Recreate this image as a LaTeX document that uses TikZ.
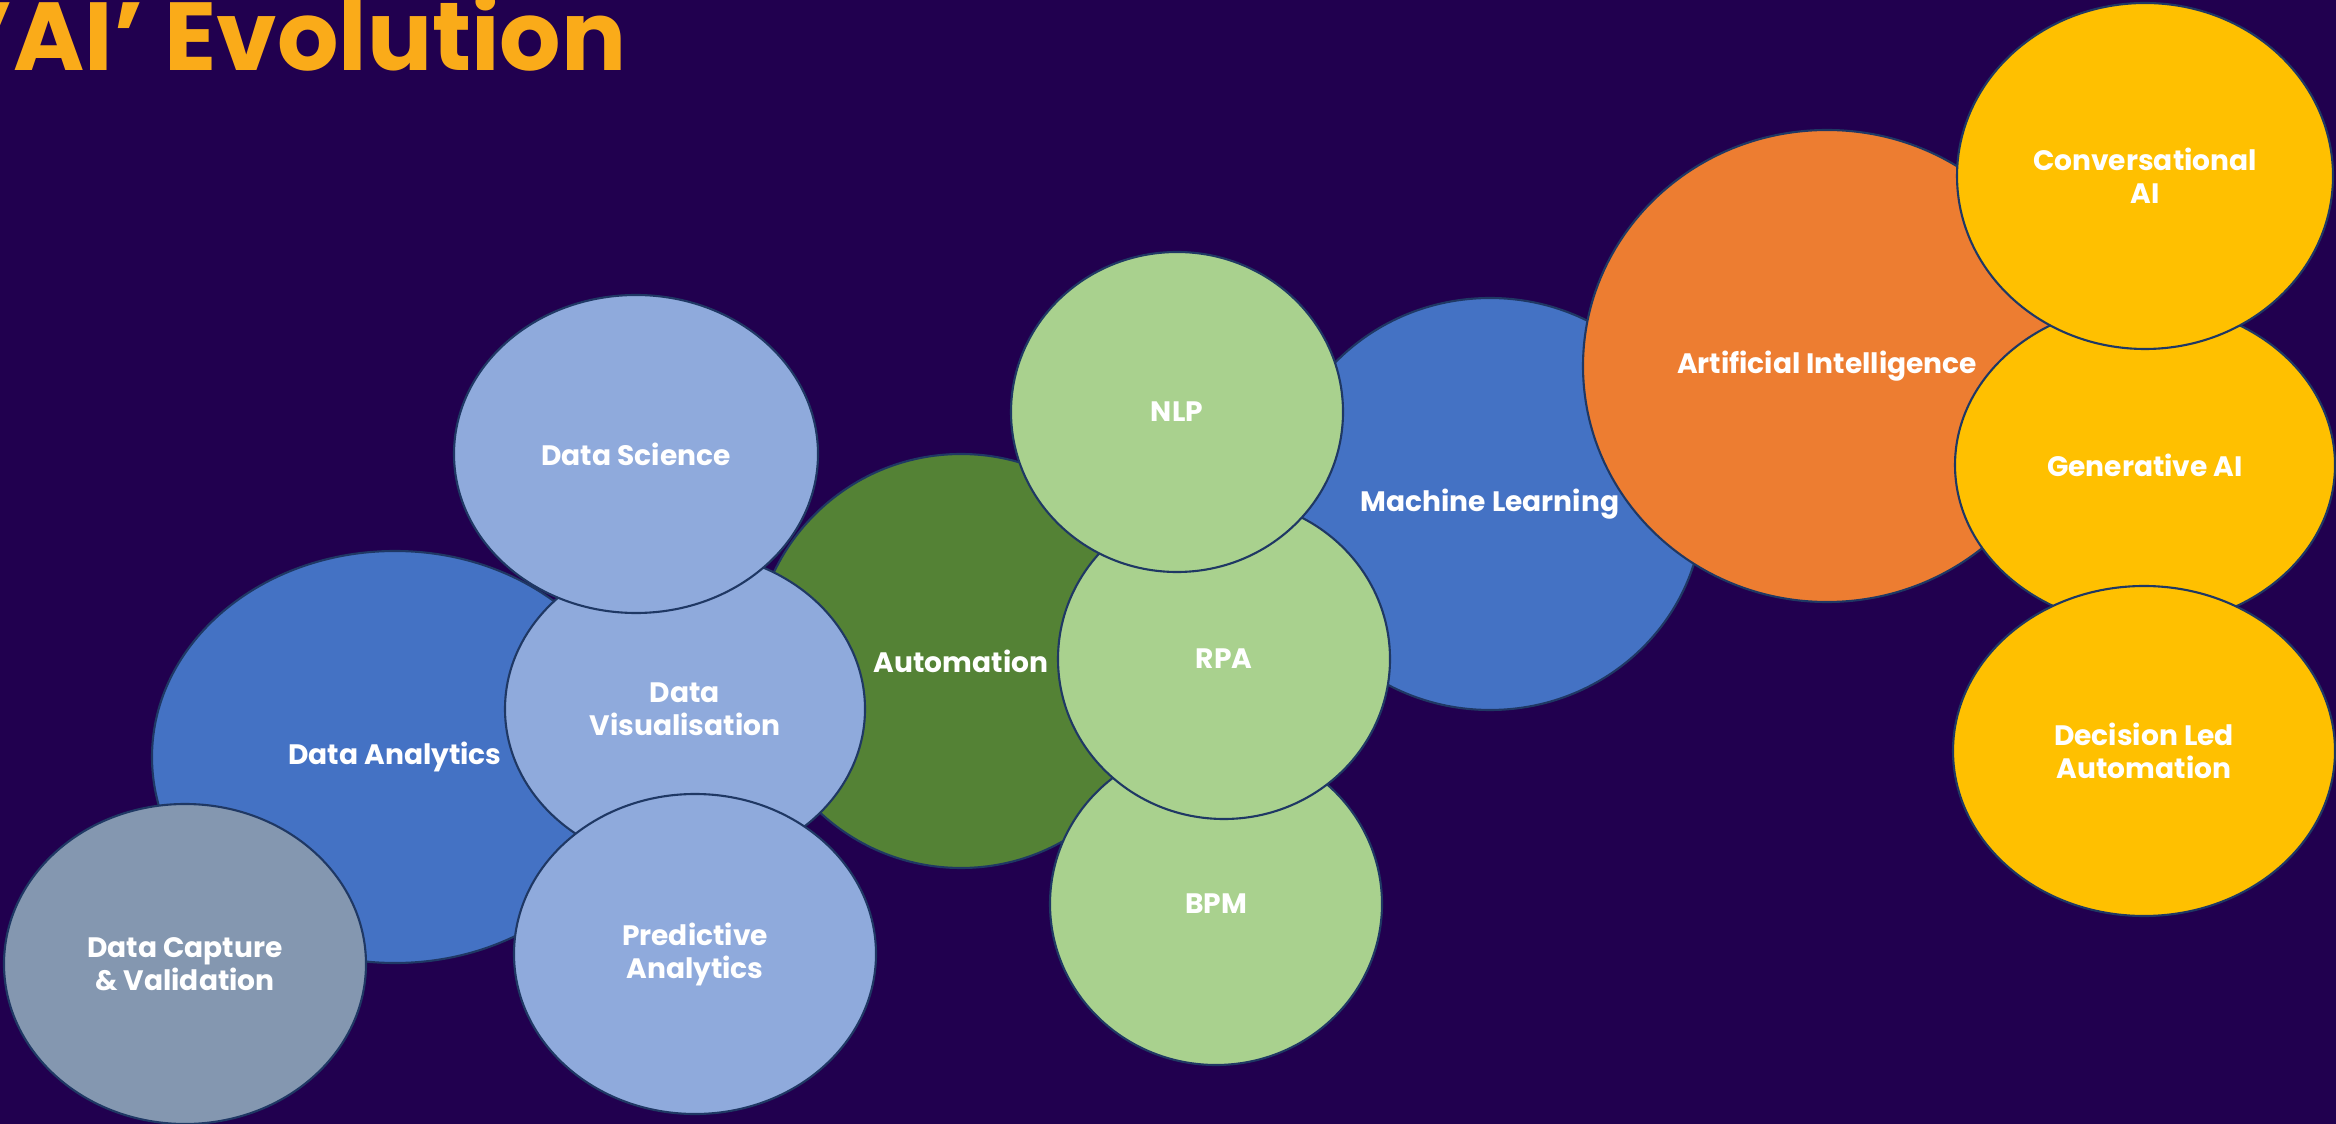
\documentclass[tikz,border=0pt]{standalone}
\usepackage{fontspec}
\setmainfont{Poppins}[UprightFont=* SemiBold, BoldFont=* Bold]
\usetikzlibrary{shapes.geometric}

\definecolor{night}{HTML}{21004F}
\definecolor{edge}{HTML}{1F3864}
\definecolor{titlegold}{HTML}{FAAB19}
\definecolor{midblue}{HTML}{4472C4}
\definecolor{paleblue}{HTML}{8FAADC}
\definecolor{slate}{HTML}{8497B0}
\definecolor{darkgreen}{HTML}{548235}
\definecolor{palegreen}{HTML}{A9D18E}
\definecolor{orange}{HTML}{ED7D31}
\definecolor{gold}{HTML}{FFC000}

\newcommand{\px}{0.02cm}
% name, x, y, x radius, y radius, fill, label
\newcommand{\bubble}[7]{\node[bubble, fill=#6, minimum width=2*#4*\px, minimum height=2*#5*\px] (#1) at (#2,#3) {#7};}

\begin{document}
\begin{tikzpicture}[x=\px, y=-\px,
  bubble/.style={ellipse, draw=edge, line width=1.2pt, inner sep=0pt, text=white,
    align=center, font=\bfseries\fontsize{16}{18.8}\selectfont}]
\fill[night] (0,0) rectangle (2336,1124);
\useasboundingbox (0,0) rectangle (2336,1124);
\node[anchor=base east, inner sep=0pt, text=titlegold, font=\bfseries\fontsize{55}{60}\selectfont] (title) at (627,71) {’AI’ Evolution};
% data side
\bubble{analytics}{395}{757}{243}{206}{midblue}{Data Analytics}
\bubble{automation}{961}{661}{207}{207}{darkgreen}{Automation}
\bubble{visual}{685}{709}{180}{157}{paleblue}{Data\\Visualisation}
\bubble{science}{636}{454}{182}{159}{paleblue}{Data Science}
\bubble{capture}{185}{964}{181}{160}{slate}{Data Capture\\\& Validation}
\bubble{predictive}{695}{954}{181}{160}{paleblue}{Predictive\\Analytics}
% automation side
\bubble{ml}{1490}{504}{213}{206}{midblue}{Machine Learning}
\bubble{bpm}{1216}{904}{166}{161}{palegreen}{BPM}
\bubble{rpa}{1224}{659}{166}{160}{palegreen}{RPA}
\bubble{nlp}{1177}{412}{166}{160}{palegreen}{NLP}
% ai side
\bubble{ai}{1827}{366}{244}{236}{orange}{Artificial Intelligence}
\bubble{genai}{2145}{465}{190}{161}{gold}{Generative AI}
\bubble{convai}{2145}{176}{188}{173}{gold}{Conversational\\AI}
\bubble{decision}{2144}{751}{191}{165}{gold}{Decision Led\\Automation}
\end{tikzpicture}
\end{document}
